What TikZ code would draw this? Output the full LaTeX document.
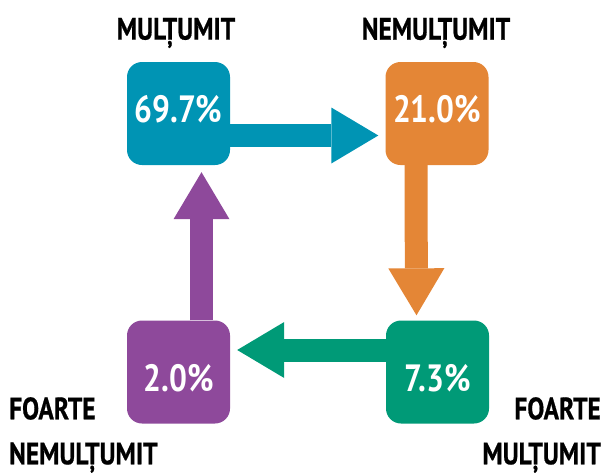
\documentclass[tikz,border=0pt]{standalone}
\usepackage{fontspec}
\newfontfamily\lblfont{PT Sans}[FakeStretch=0.82, FakeBold=0.6]
\newfontfamily\pctfont{PT Sans}[FakeStretch=0.83]
\usetikzlibrary{arrows.meta}

\definecolor{cmul}{RGB}{0,148,180}
\definecolor{cnem}{RGB}{228,134,54}
\definecolor{cfm}{RGB}{0,154,119}
\definecolor{cfn}{RGB}{142,73,155}

\tikzset{
  box/.style={rounded corners=15pt, minimum width=103pt, minimum height=103pt, inner sep=0pt},
  pct/.style={text=white, font=\pctfont\bfseries\fontsize{38}{40}\selectfont, inner sep=0pt},
  lbl/.style={font=\lblfont\bfseries\fontsize{31}{45}\selectfont, inner sep=0pt},
  flow/.style={line width=23pt, -{Triangle[length=47pt, width=56pt, line width=0pt]}}
}

\begin{document}
\begin{tikzpicture}[x=1pt, y=-1pt]
\path[use as bounding box] (0,0) rectangle (606,475);
% boxes
\node[box, fill=cmul] (mul) at (178.5,113.5) {};
\node[box, fill=cnem] (nem) at (437,113.5) {};
\node[box, fill=cfm] (fm) at (437.5,372) {};
\node[box, fill=cfn] (fn) at (178.5,372) {};
% values
\node[pct] (pmul) at ([yshift=4pt]mul.center) {69.7\%};
\node[pct] (pnem) at ([yshift=4pt]nem.center) {21.0\%};
\node[pct] (pfm) at ([yshift=-6pt]fm.center) {7.3\%};
\node[pct] (pfn) at ([yshift=-6pt]fn.center) {2.0\%};
% labels
\node[lbl] (lmul) at (176,33) {MULȚUMIT};
\node[lbl] (lnem) at (436,33) {NEMULȚUMIT};
\node[lbl, align=left, anchor=north west] (lfn) at (9,397) {FOARTE\\NEMULȚUMIT};
\node[lbl, align=right, anchor=north east] (lfm) at (601,397) {FOARTE\\MULȚUMIT};
% arrows
\draw[flow, cmul, shorten >=7pt] ([yshift=-22pt]mul.east) -- ([yshift=-22pt]nem.west);
\draw[flow, cnem, shorten >=5pt] ([xshift=-21pt]nem.south) -- ([xshift=-21pt]fm.north);
\draw[flow, cfm, shorten >=7pt] ([yshift=22pt]fm.west) -- ([yshift=22pt]fn.east);
\draw[flow, cfn, shorten >=7pt] ([xshift=23pt]fn.north) -- ([xshift=23pt]mul.south);
\end{tikzpicture}
\end{document}
